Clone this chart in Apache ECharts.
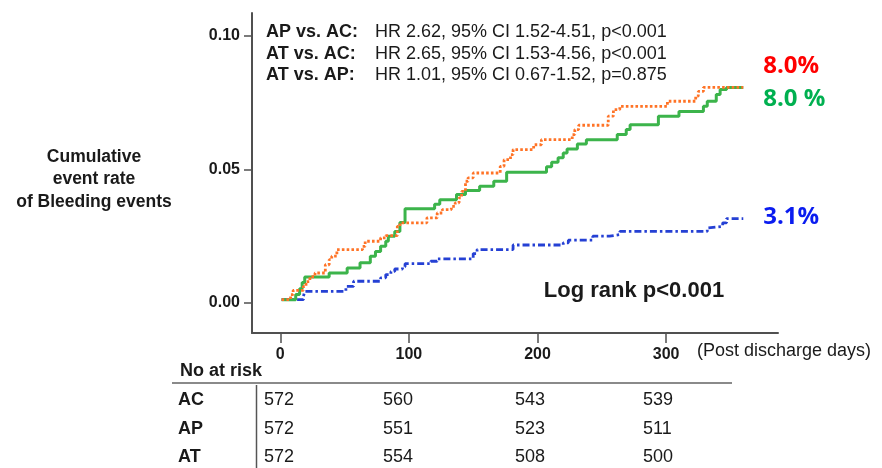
<!DOCTYPE html>
<html>
<head>
<meta charset="utf-8">
<title>Cumulative bleeding events</title>
<script src="https://cdn.jsdelivr.net/npm/echarts@6/dist/echarts.min.js"></script>
<style>
  html, body { margin: 0; padding: 0; background: #fff; }
  #chart { width: 882px; height: 468px; }
</style>
</head>
<body>
<div id="chart"></div>
<script>
// cumulative event rate, [post discharge day, rate]
const acData = [
  [1, 0.0011], [18, 0.0024], [19, 0.0042], [51, 0.0061], [57, 0.008],
  [78, 0.0093], [82, 0.0105], [86, 0.0117], [89, 0.0126], [95, 0.0134],
  [97, 0.0146], [117, 0.0155], [122, 0.0164], [150, 0.0184], [153, 0.0199],
  [181, 0.0216], [220, 0.0224], [224, 0.0234], [243, 0.0249], [256, 0.0255],
  [264, 0.0267], [332, 0.028], [333, 0.0286], [344, 0.0299], [347, 0.0315],
  [360, 0.0315],
];
const apData = [
  [1, 0.0011], [8, 0.003], [10, 0.0046], [18, 0.0061], [20, 0.0079],
  [23, 0.0097], [27, 0.0111], [35, 0.0142], [38, 0.0161], [40, 0.0174],
  [44, 0.0199], [64, 0.0211], [66, 0.023], [78, 0.0243], [82, 0.0251],
  [91, 0.0286], [93, 0.0299], [114, 0.0318], [122, 0.0336], [126, 0.0349],
  [133, 0.0361], [136, 0.0374], [139, 0.0393], [141, 0.0417], [144, 0.0455],
  [146, 0.0468], [150, 0.0486], [171, 0.0511], [174, 0.0536], [179, 0.0555],
  [181, 0.0574], [197, 0.0592], [203, 0.0611], [227, 0.063], [229, 0.0649],
  [232, 0.0665], [255, 0.0699], [259, 0.0724], [264, 0.0736], [301, 0.0755],
  [323, 0.0774], [325, 0.0792], [329, 0.0807], [360, 0.0807],
];
const atData = [
  [1, 0.0011], [12, 0.003], [15, 0.0052], [17, 0.0075], [19, 0.0096],
  [38, 0.0111], [52, 0.013], [62, 0.0149], [70, 0.0174], [74, 0.0192],
  [78, 0.0211], [82, 0.023], [84, 0.0249], [89, 0.0267], [93, 0.03],
  [97, 0.0352], [120, 0.0369], [124, 0.0386], [137, 0.0405], [144, 0.042],
  [155, 0.0436], [166, 0.0455], [176, 0.0489], [207, 0.0509], [211, 0.0526],
  [216, 0.0543], [220, 0.0561], [223, 0.0576], [231, 0.0595], [238, 0.0611],
  [262, 0.063], [269, 0.0649], [272, 0.0667], [294, 0.0699], [310, 0.0717],
  [329, 0.0736], [332, 0.0755], [339, 0.078], [342, 0.0799], [347, 0.0807],
  [360, 0.0807],
];

const groupNames = ["AC", "AP", "AT"];
const endLabels = ["3.1%", "8.0%", "8.0 %"];
const xTicks = [0, 100, 200, 300];
const yTicks = [0, 0.05, 0.1];

// number at risk per group at days 0 / 100 / 200 / 300
const atRiskAC = [572, 560, 543, 539];
const atRiskAP = [572, 551, 523, 511];
const atRiskAT = [572, 554, 508, 500];

const hrPairs = ["AP vs. AC:", "AT vs. AC:", "AT vs. AP:"];
const hrTexts = [
  "HR 2.62, 95% CI 1.52-4.51, p<0.001",
  "HR 2.65, 95% CI 1.53-4.56, p<0.001",
  "HR 1.01, 95% CI 0.67-1.52, p=0.875",
];

const FONT = "Liberation Sans, Arial, sans-serif";
const AXIS_COLOR = "#505050";

function makeSeries(name, data, color, type, width, labelText, labelColor, dy) {
  return {
    name: name,
    type: "line",
    step: "end",
    data: data,
    symbol: "none",
    silent: true,
    lineStyle: { color: color, width: width, type: type },
    endLabel: {
      show: true,
      formatter: () => labelText,
      color: labelColor,
      fontFamily: "Open Sans, sans-serif",
      fontWeight: "bold",
      fontSize: 24,
      distance: 20,
      offset: [0, dy],
    },
  };
}

function buildGraphics() {
  const items = [];
  const addText = (x, y, str, font, align) => {
    items.push({
      type: "text",
      x: x,
      y: y,
      style: {
        text: str,
        fill: "#1a1a1a",
        font: font,
        align: align || "left",
        verticalAlign: "middle",
      },
    });
  };

  // y axis title
  ["Cumulative", "event rate", "of Bleeding events"].forEach((line, i) => {
    addText(94, 157 + i * 22.5, line, "bold 17.5px " + FONT, "center");
  });

  // hazard ratios
  hrPairs.forEach((pair, i) => {
    const y = 32 + i * 21.7;
    addText(266, y, pair, "bold 18px " + FONT);
    addText(375, y, hrTexts[i], "18px " + FONT);
  });

  addText(634, 291, "Log rank p<0.001", "bold 22px " + FONT, "center");
  addText(697, 351, "(Post discharge days)", "18px " + FONT);

  // number at risk table
  addText(180, 371, "No at risk", "bold 18px " + FONT);
  items.push({
    type: "line",
    shape: { x1: 172, y1: 383, x2: 732, y2: 383 },
    style: { stroke: "#8a8a8a", lineWidth: 2 },
  });
  items.push({
    type: "line",
    shape: { x1: 256.5, y1: 385, x2: 256.5, y2: 468 },
    style: { stroke: "#555", lineWidth: 1.5 },
  });

  const colX = [264, 383, 515, 643];
  const rowY = [400, 429, 457];
  [atRiskAC, atRiskAP, atRiskAT].forEach((row, r) => {
    addText(178, rowY[r], groupNames[r], "bold 18px " + FONT);
    row.forEach((n, c) => {
      addText(colX[c], rowY[r], String(n), "18px " + FONT);
    });
  });

  return items;
}

const chart = echarts.init(document.getElementById("chart"));

const option = {
  animation: false,
  grid: { left: 252, right: 104, top: 13, bottom: 135 },
  xAxis: {
    type: "value",
    min: -22,
    max: 387,
    splitLine: { show: false },
    axisLine: { onZero: false, lineStyle: { color: AXIS_COLOR, width: 2 } },
    axisTick: { customValues: xTicks, length: 10, lineStyle: { color: AXIS_COLOR, width: 1.5 } },
    axisLabel: {
      customValues: xTicks,
      margin: 14,
      color: "#1a1a1a",
      fontFamily: FONT,
      fontWeight: "bold",
      fontSize: 16,
    },
  },
  yAxis: {
    type: "value",
    min: -0.0114,
    max: 0.1086,
    splitLine: { show: false },
    axisLine: { show: true, onZero: false, lineStyle: { color: AXIS_COLOR, width: 2 } },
    axisTick: { show: true, customValues: yTicks, length: 8, lineStyle: { color: AXIS_COLOR, width: 1.5 } },
    axisLabel: {
      customValues: yTicks,
      formatter: (v) => v.toFixed(2),
      margin: 12,
      color: "#1a1a1a",
      fontFamily: FONT,
      fontWeight: "bold",
      fontSize: 16,
    },
  },
  series: [
    makeSeries(groupNames[0], acData, "#2540d4", [7, 3, 2.5, 3], 2.8, endLabels[0], "#0a1cf0", -1),
    makeSeries(groupNames[2], atData, "#3cb44b", "solid", 3, endLabels[2], "#00b050", 12),
    makeSeries(groupNames[1], apData, "#ff7326", [2.6, 2.2], 2.8, endLabels[1], "#ff0000", -21),
  ],
  graphic: buildGraphics(),
};

chart.setOption(option);
</script>
</body>
</html>
